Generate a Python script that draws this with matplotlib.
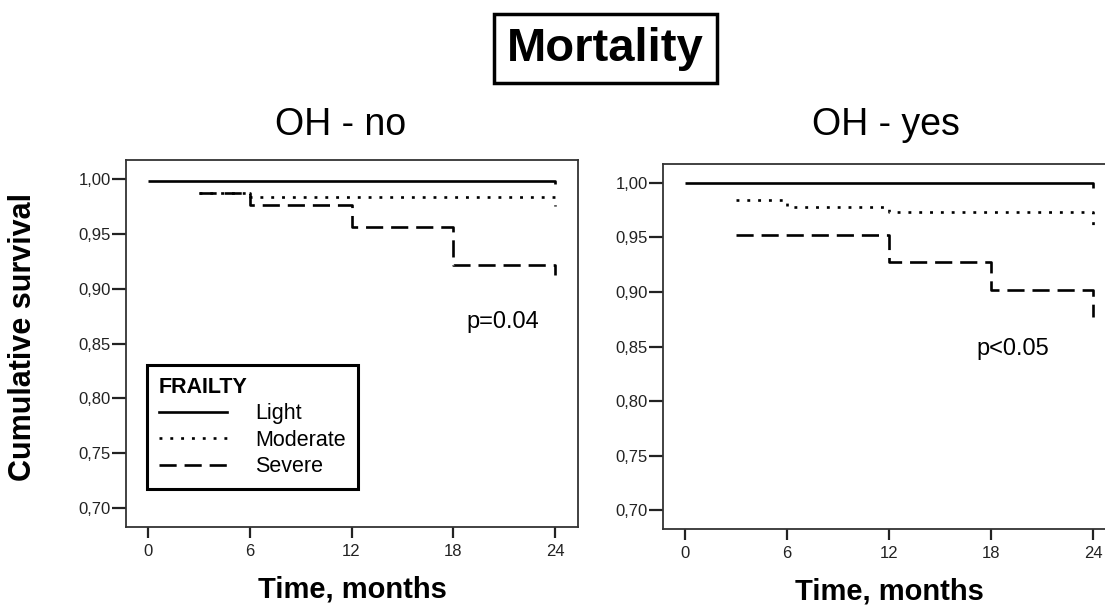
import matplotlib
matplotlib.use('Agg')
import matplotlib.pyplot as plt
from matplotlib.lines import Line2D
from matplotlib.ticker import FuncFormatter

plt.rcParams['font.family'] = ['Liberation Sans', 'DejaVu Sans']

# Kaplan-Meier step data (time in months, survival)
no_light_t = [0, 24]
no_light_s = [0.998, 0.995]
no_mod_t = [3, 6, 24]
no_mod_s = [0.987, 0.983, 0.975]
no_sev_t = [3, 6, 12, 18, 24]
no_sev_s = [0.987, 0.976, 0.956, 0.921, 0.912]

yes_light_t = [0, 24]
yes_light_s = [1.000, 0.995]
yes_mod_t = [3, 6, 12, 24]
yes_mod_s = [0.984, 0.978, 0.973, 0.956]
yes_sev_t = [3, 12, 18, 24]
yes_sev_s = [0.952, 0.927, 0.902, 0.877]

x_ticks = [0, 6, 12, 18, 24]
y_ticks = [0.70, 0.75, 0.80, 0.85, 0.90, 0.95, 1.00]
groups = ['Light', 'Moderate', 'Severe']

lw = 1.9
styles = {
    'Light': dict(linestyle='-'),
    'Moderate': dict(linestyle=(0, (1.1, 3.0))),
    'Severe': dict(linestyle=(0, (6.5, 3.0))),
}

fig = plt.figure(figsize=(11.05, 6.08), dpi=100)
ax1 = fig.add_axes([0.114, 0.133, 0.409, 0.604])
ax2 = fig.add_axes([0.600, 0.130, 0.410, 0.600])

def style_axis(ax):
    ax.set_xlim(-1.3, 25.35)
    ax.set_ylim(0.683, 1.017)
    ax.set_xticks(x_ticks)
    ax.set_yticks(y_ticks)
    ax.yaxis.set_major_formatter(FuncFormatter(lambda v, p: f"{v:.2f}".replace('.', ',')))
    for sp in ax.spines.values():
        sp.set_color('#333333')
        sp.set_linewidth(1.3)
    ax.tick_params(axis='y', length=10, width=1.6, pad=1, labelsize=12, colors='#222222')
    ax.tick_params(axis='x', length=8, width=1.6, pad=4, labelsize=12, colors='#222222')
    ax.set_xlabel('Time, months', fontsize=21, fontweight='bold', labelpad=12)

def draw(ax, data):
    for name, (t, s) in zip(groups, data):
        ax.step(t, s, where='post', color='black', linewidth=lw,
                solid_capstyle='butt', dash_capstyle='butt', **styles[name])

draw(ax1, [(no_light_t, no_light_s), (no_mod_t, no_mod_s), (no_sev_t, no_sev_s)])
draw(ax2, [(yes_light_t, yes_light_s), (yes_mod_t, yes_mod_s), (yes_sev_t, yes_sev_s)])
style_axis(ax1)
style_axis(ax2)

ax1.text(20.9, 0.870, 'p=0.04', fontsize=17, ha='center', va='center')
ax2.text(19.3, 0.848, 'p<0.05', fontsize=17, ha='center', va='center')

handles = [Line2D([], [], color='black', linewidth=lw, **styles[g]) for g in groups]
leg = ax1.legend(handles, groups, title='FRAILTY', loc='upper left',
                 bbox_to_anchor=(0.046, 0.441), borderaxespad=0, fontsize=15.5,
                 alignment='left', title_fontproperties={'weight': 'bold', 'size': 15.5},
                 handlelength=3.2, handletextpad=1.3, labelspacing=0.25,
                 borderpad=0.55, fancybox=False, framealpha=1)
leg.get_frame().set_edgecolor('black')
leg.get_frame().set_linewidth(2.2)

fig.text(0.021, 0.446, 'Cumulative survival', rotation=90, fontsize=22,
         fontweight='bold', ha='center', va='center')
fig.text(0.308, 0.794, 'OH - no', fontsize=27, ha='center', va='center')
fig.text(0.802, 0.794, 'OH - yes', fontsize=27, ha='center', va='center')
fig.text(0.548, 0.920, 'Mortality', fontsize=34, fontweight='bold', ha='center', va='center',
         bbox=dict(boxstyle='square,pad=0.27', facecolor='white', edgecolor='black', linewidth=2.5))

fig.savefig('out.png', dpi=100)
